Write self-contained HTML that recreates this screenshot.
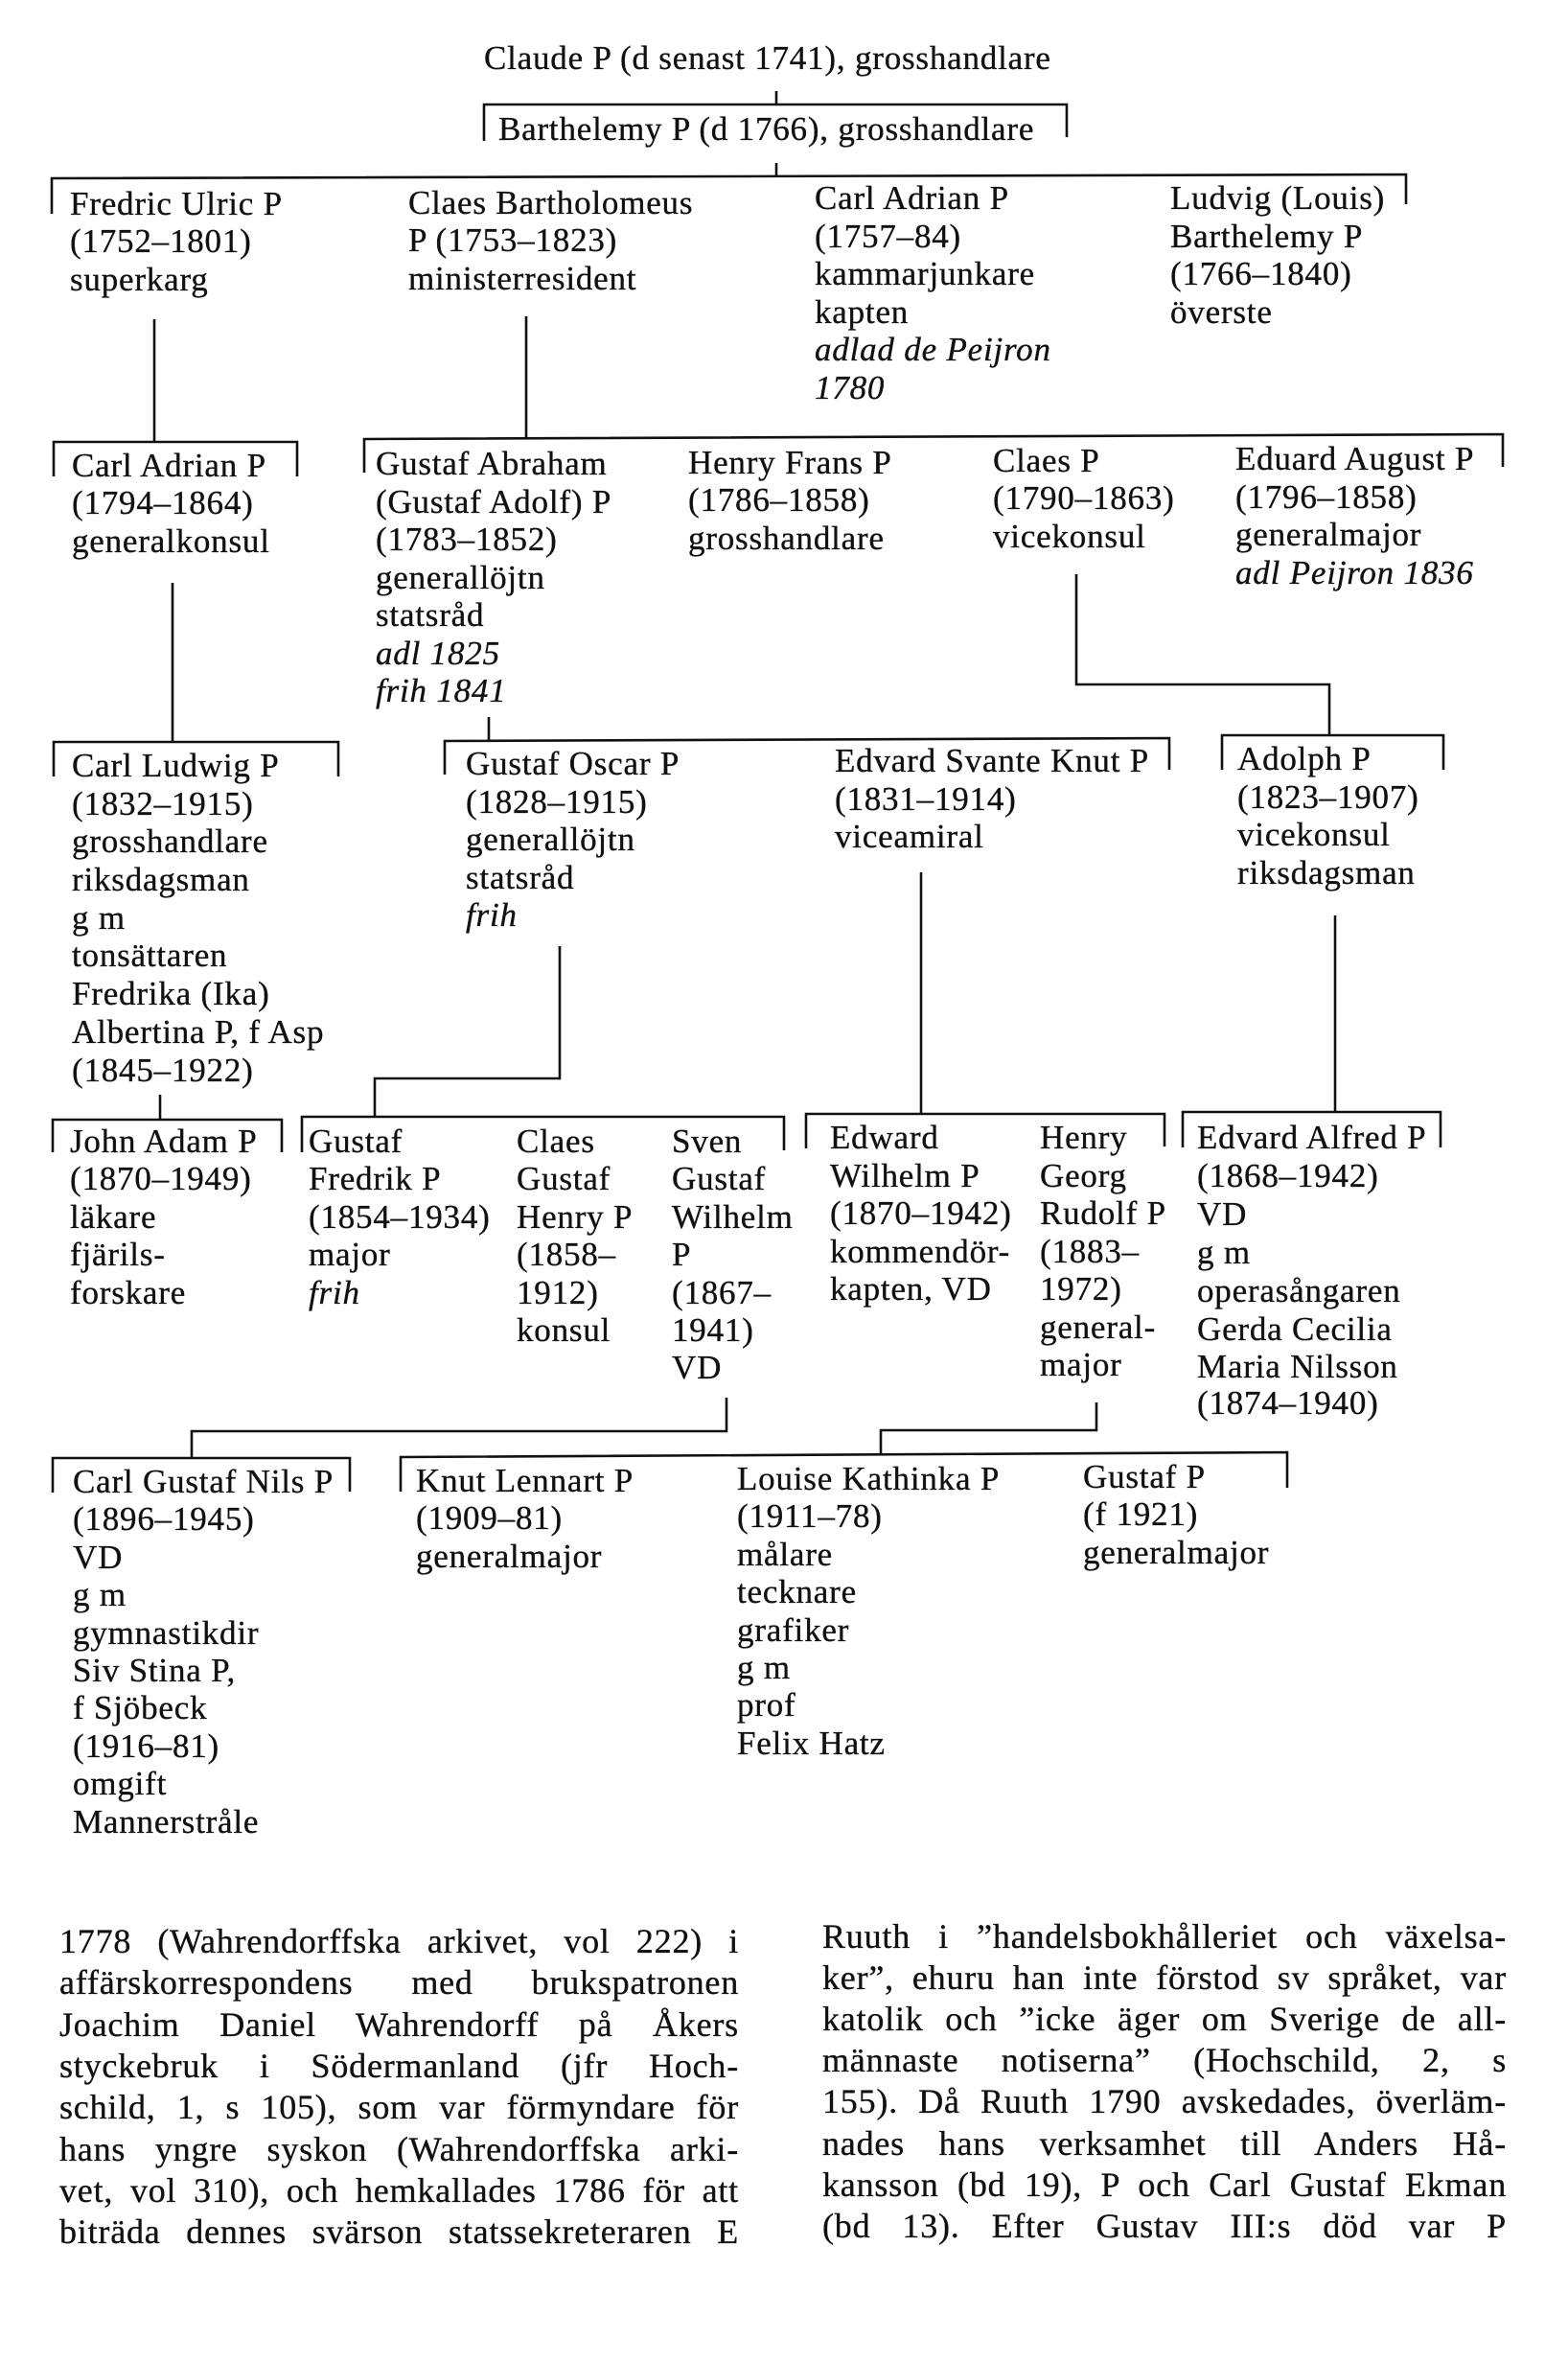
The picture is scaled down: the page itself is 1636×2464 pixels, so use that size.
<!DOCTYPE html>
<html>
<head>
<meta charset="utf-8">
<style>
  html, body { margin:0; padding:0; background:#fff; }
  body { width:1636px; height:2464px; position:relative; overflow:hidden; }
  svg { position:absolute; left:0; top:0; }
  svg text { font-family:"Liberation Serif", serif; font-size:35px; fill:#111; stroke:#111; stroke-width:0.35px; letter-spacing:0.8px; }
  svg text.i { font-style:italic; }
  .ln { position:absolute; height:36px; line-height:36px; font-family:"Liberation Serif", serif; font-size:36px; letter-spacing:0.8px; color:#111; -webkit-text-stroke:0.35px #111; text-align:justify; text-align-last:justify; }
  .L { left:62px; width:709px; }
  .R { left:858px; width:714px; }
</style>
</head>
<body>
<svg width="1636" height="2464" viewBox="0 0 1636 2464" xmlns="http://www.w3.org/2000/svg">
  <g fill="none" stroke="#111" stroke-width="2.6">
    <path d="M810,95 V109"/>
    <path d="M505,147 V109 H1113 V143"/>
    <path d="M810,170 V184"/>
    <path d="M54,223 L54,186 L1467,182 L1467,213"/>
    <path d="M161,333 V461"/>
    <path d="M549,330 V458"/>
    <path d="M56,497 V461 H310 V497"/>
    <path d="M380,493 L380,458 L1568,453 L1568,487"/>
    <path d="M180,608 V774"/>
    <path d="M510,748 V773"/>
    <path d="M1123,599 V714 H1387 V767"/>
    <path d="M56,810 V774 H353 V810"/>
    <path d="M464,808 L464,773 L1220,770 L1220,803"/>
    <path d="M1275,803 V767 H1506 V803"/>
    <path d="M584,987 V1125 H391 V1165"/>
    <path d="M167,1142 V1168"/>
    <path d="M961,910 V1162"/>
    <path d="M1393,955 V1160"/>
    <path d="M55,1202 V1168 H294 V1202"/>
    <path d="M315,1202 V1165 H818 V1200"/>
    <path d="M841,1198 V1162 H1215 V1196"/>
    <path d="M1234,1197 V1160 H1503 V1197"/>
    <path d="M758,1458 V1493 H200 V1521"/>
    <path d="M1144,1463 V1492 H919 V1516"/>
    <path d="M55,1557 V1521 H365 V1556"/>
    <path d="M418,1556 L418,1520 L1343,1515 L1343,1552"/>
  </g>

  <!-- Row 0/1 -->
  <text x="505" y="72">Claude P (d senast 1741), grosshandlare</text>
  <text x="520" y="146">Barthelemy P (d 1766), grosshandlare</text>

  <!-- Row 2 -->
  <text x="73" y="224">Fredric Ulric P</text>
  <text x="73" y="263">(1752–1801)</text>
  <text x="73" y="303">superkarg</text>

  <text x="426" y="223">Claes Bartholomeus</text>
  <text x="426" y="262">P (1753–1823)</text>
  <text x="426" y="302">ministerresident</text>

  <text x="850" y="218">Carl Adrian P</text>
  <text x="850" y="258">(1757–84)</text>
  <text x="850" y="297">kammarjunkare</text>
  <text x="850" y="337">kapten</text>
  <text x="850" y="376" class="i">adlad de Peijron</text>
  <text x="850" y="416" class="i">1780</text>

  <text x="1221" y="218">Ludvig (Louis)</text>
  <text x="1221" y="258">Barthelemy P</text>
  <text x="1221" y="297">(1766–1840)</text>
  <text x="1221" y="337">överste</text>

  <!-- Row 3 -->
  <text x="75" y="497">Carl Adrian P</text>
  <text x="75" y="536">(1794–1864)</text>
  <text x="75" y="576">generalkonsul</text>

  <text x="392" y="495">Gustaf Abraham</text>
  <text x="392" y="535">(Gustaf Adolf) P</text>
  <text x="392" y="574">(1783–1852)</text>
  <text x="392" y="614">generallöjtn</text>
  <text x="392" y="653">statsråd</text>
  <text x="392" y="693" class="i">adl 1825</text>
  <text x="392" y="732" class="i">frih 1841</text>

  <text x="718" y="494">Henry Frans P</text>
  <text x="718" y="533">(1786–1858)</text>
  <text x="718" y="573">grosshandlare</text>

  <text x="1036" y="492">Claes P</text>
  <text x="1036" y="531">(1790–1863)</text>
  <text x="1036" y="571">vicekonsul</text>

  <text x="1289" y="490">Eduard August P</text>
  <text x="1289" y="530">(1796–1858)</text>
  <text x="1289" y="569">generalmajor</text>
  <text x="1289" y="609" class="i">adl Peijron 1836</text>

  <!-- Row 4 -->
  <text x="75" y="810">Carl Ludwig P</text>
  <text x="75" y="850">(1832–1915)</text>
  <text x="75" y="889">grosshandlare</text>
  <text x="75" y="929">riksdagsman</text>
  <text x="75" y="969">g m</text>
  <text x="75" y="1008">tonsättaren</text>
  <text x="75" y="1048">Fredrika (Ika)</text>
  <text x="75" y="1088">Albertina P, f Asp</text>
  <text x="75" y="1128">(1845–1922)</text>

  <text x="486" y="808">Gustaf Oscar P</text>
  <text x="486" y="848">(1828–1915)</text>
  <text x="486" y="887">generallöjtn</text>
  <text x="486" y="927">statsråd</text>
  <text x="486" y="966" class="i">frih</text>

  <text x="871" y="805">Edvard Svante Knut P</text>
  <text x="871" y="845">(1831–1914)</text>
  <text x="871" y="884">viceamiral</text>

  <text x="1291" y="803">Adolph P</text>
  <text x="1291" y="843">(1823–1907)</text>
  <text x="1291" y="882">vicekonsul</text>
  <text x="1291" y="922">riksdagsman</text>

  <!-- Row 5 -->
  <text x="73" y="1202">John Adam P</text>
  <text x="73" y="1241">(1870–1949)</text>
  <text x="73" y="1281">läkare</text>
  <text x="73" y="1320">fjärils-</text>
  <text x="73" y="1360">forskare</text>

  <text x="322" y="1202">Gustaf</text>
  <text x="322" y="1241">Fredrik P</text>
  <text x="322" y="1281">(1854–1934)</text>
  <text x="322" y="1320">major</text>
  <text x="322" y="1360" class="i">frih</text>

  <text x="539" y="1202">Claes</text>
  <text x="539" y="1241">Gustaf</text>
  <text x="539" y="1281">Henry P</text>
  <text x="539" y="1320">(1858–</text>
  <text x="539" y="1360">1912)</text>
  <text x="539" y="1399">konsul</text>

  <text x="701" y="1202">Sven</text>
  <text x="701" y="1241">Gustaf</text>
  <text x="701" y="1281">Wilhelm</text>
  <text x="701" y="1320">P</text>
  <text x="701" y="1360">(1867–</text>
  <text x="701" y="1399">1941)</text>
  <text x="701" y="1438">VD</text>

  <text x="866" y="1198">Edward</text>
  <text x="866" y="1238">Wilhelm P</text>
  <text x="866" y="1277">(1870–1942)</text>
  <text x="866" y="1317">kommendör-</text>
  <text x="866" y="1356">kapten, VD</text>

  <text x="1085" y="1198">Henry</text>
  <text x="1085" y="1238">Georg</text>
  <text x="1085" y="1277">Rudolf P</text>
  <text x="1085" y="1317">(1883–</text>
  <text x="1085" y="1356">1972)</text>
  <text x="1085" y="1396">general-</text>
  <text x="1085" y="1435">major</text>

  <text x="1249" y="1198">Edvard Alfred P</text>
  <text x="1249" y="1238">(1868–1942)</text>
  <text x="1249" y="1278">VD</text>
  <text x="1249" y="1318">g m</text>
  <text x="1249" y="1358">operasångaren</text>
  <text x="1249" y="1398">Gerda Cecilia</text>
  <text x="1249" y="1437">Maria Nilsson</text>
  <text x="1249" y="1475">(1874–1940)</text>

  <!-- Row 6 -->
  <text x="76" y="1557">Carl Gustaf Nils P</text>
  <text x="76" y="1596">(1896–1945)</text>
  <text x="76" y="1636">VD</text>
  <text x="76" y="1675">g m</text>
  <text x="76" y="1715">gymnastikdir</text>
  <text x="76" y="1754">Siv Stina P,</text>
  <text x="76" y="1793">f Sjöbeck</text>
  <text x="76" y="1833">(1916–81)</text>
  <text x="76" y="1872">omgift</text>
  <text x="76" y="1912">Mannerstråle</text>

  <text x="434" y="1556">Knut Lennart P</text>
  <text x="434" y="1595">(1909–81)</text>
  <text x="434" y="1635">generalmajor</text>

  <text x="769" y="1554">Louise Kathinka P</text>
  <text x="769" y="1593">(1911–78)</text>
  <text x="769" y="1633">målare</text>
  <text x="769" y="1672">tecknare</text>
  <text x="769" y="1712">grafiker</text>
  <text x="769" y="1751">g m</text>
  <text x="769" y="1790">prof</text>
  <text x="769" y="1830">Felix Hatz</text>

  <text x="1130" y="1552">Gustaf P</text>
  <text x="1130" y="1591">(f 1921)</text>
  <text x="1130" y="1631">generalmajor</text>
</svg>

<!-- Body text, left column -->
<div class="ln L" style="top:2007px">1778 (Wahrendorffska arkivet, vol 222) i</div>
<div class="ln L" style="top:2050px">affärskorrespondens med brukspatronen</div>
<div class="ln L" style="top:2094px">Joachim Daniel Wahrendorff på Åkers</div>
<div class="ln L" style="top:2137px">styckebruk i Södermanland (jfr Hoch-</div>
<div class="ln L" style="top:2180px">schild, 1, s 105), som var förmyndare för</div>
<div class="ln L" style="top:2224px">hans yngre syskon (Wahrendorffska arki-</div>
<div class="ln L" style="top:2267px">vet, vol 310), och hemkallades 1786 för att</div>
<div class="ln L" style="top:2310px">biträda dennes svärson statssekreteraren E</div>

<!-- Body text, right column -->
<div class="ln R" style="top:2002px">Ruuth i ”handelsbokhålleriet och växelsa-</div>
<div class="ln R" style="top:2045px">ker”, ehuru han inte förstod sv språket, var</div>
<div class="ln R" style="top:2088px">katolik och ”icke äger om Sverige de all-</div>
<div class="ln R" style="top:2131px">männaste notiserna” (Hochschild, 2, s</div>
<div class="ln R" style="top:2174px">155). Då Ruuth 1790 avskedades, överläm-</div>
<div class="ln R" style="top:2218px">nades hans verksamhet till Anders Hå-</div>
<div class="ln R" style="top:2261px">kansson (bd 19), P och Carl Gustaf Ekman</div>
<div class="ln R" style="top:2304px">(bd 13). Efter Gustav III:s död var P</div>
</body>
</html>
